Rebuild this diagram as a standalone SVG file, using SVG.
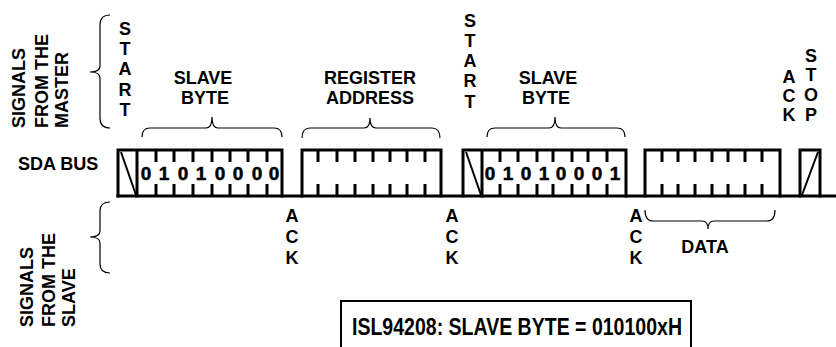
<svg xmlns="http://www.w3.org/2000/svg" width="836" height="347" viewBox="0 0 836 347">
<style>
.t{font-family:"Liberation Sans",Arial,sans-serif;font-weight:bold;font-size:18px;fill:#000}
.c{text-anchor:middle}
.d{font-family:"Liberation Sans",Arial,sans-serif;font-weight:bold;font-size:19px;fill:#000;stroke:#000;stroke-width:0.5;text-anchor:middle}
.bus{fill:none;stroke:#000;stroke-width:3;stroke-linecap:square}
.tick{stroke:#000;stroke-width:3}
.sl{stroke:#000;stroke-width:2}
.br{fill:none;stroke:#000;stroke-width:1.2}
</style>
<rect width="836" height="347" fill="#fff"/>

<g id="label-master">
<text class="t" transform="translate(25,128) rotate(-90)">SIGNALS</text>
<text class="t" transform="translate(48,128) rotate(-90)">FROM THE</text>
<text class="t" transform="translate(68,128) rotate(-90)">MASTER</text>
</g>
<g id="label-slave">
<text class="t" transform="translate(33,327) rotate(-90)">SIGNALS</text>
<text class="t" transform="translate(55,327) rotate(-90)">FROM THE</text>
<text class="t" transform="translate(75,327) rotate(-90)">SLAVE</text>
</g>
<g id="label-sda"><text class="t" x="18" y="170">SDA BUS</text></g>

<g id="start1">
<text class="t c" x="125" y="35">S</text>
<text class="t c" x="125" y="55">T</text>
<text class="t c" x="125" y="75">A</text>
<text class="t c" x="125" y="96">R</text>
<text class="t c" x="125" y="116">T</text>
</g>
<g id="start2">
<text class="t c" x="470" y="27">S</text>
<text class="t c" x="470" y="47">T</text>
<text class="t c" x="470" y="67">A</text>
<text class="t c" x="470" y="87">R</text>
<text class="t c" x="470" y="108">T</text>
</g>
<g id="ack-top">
<text class="t c" x="789" y="83">A</text>
<text class="t c" x="789" y="102">C</text>
<text class="t c" x="789" y="121">K</text>
</g>
<g id="stop">
<text class="t c" x="811" y="62">S</text>
<text class="t c" x="811" y="81">T</text>
<text class="t c" x="811" y="101">O</text>
<text class="t c" x="811" y="121">P</text>
</g>

<g id="slave-byte-1"><text class="t c" x="203" y="84">SLAVE</text><text class="t c" x="205" y="104">BYTE</text></g>
<g id="register-address"><text class="t c" x="370" y="84">REGISTER</text><text class="t c" x="370" y="104">ADDRESS</text></g>
<g id="slave-byte-2"><text class="t c" x="548" y="84">SLAVE</text><text class="t c" x="546" y="104">BYTE</text></g>

<g id="ack1"><text class="t c" x="292" y="222">A</text><text class="t c" x="292" y="243">C</text><text class="t c" x="292" y="264">K</text></g>
<g id="ack2"><text class="t c" x="452" y="222">A</text><text class="t c" x="452" y="243">C</text><text class="t c" x="452" y="264">K</text></g>
<g id="ack3"><text class="t c" x="636" y="222">A</text><text class="t c" x="636" y="243">C</text><text class="t c" x="636" y="264">K</text></g>
<g id="data-label"><text class="t c" x="705" y="253">DATA</text></g>

<g id="braces">
<path class="br" d="M110,15 Q100,15 100,25 L100,66 Q100,72 90,72 Q100,72 100,78 L100,118 Q100,128 110,128"/>
<path class="br" d="M110,202 Q100,202 100,211 L100,231 Q100,237 90,237 Q100,237 100,243 L100,264 Q100,273 110,273"/>
<path class="br" d="M142,137 Q142,128 150,128 L206,128 Q212,128 212,117 Q212,128 218,128 L274,128 Q282,128 282,137"/>
<path class="br" d="M302,138 Q302,128 310,128 L364,128 Q370,128 370,118 Q370,128 376,128 L432,128 Q440,128 440,138"/>
<path class="br" d="M487,137 Q487,128 495,128 L549,128 Q555,128 555,117 Q555,128 561,128 L617,128 Q625,128 625,137"/>
<path class="br" d="M645,210 Q645,221 653,221 L702,221 Q708,221 708,229 Q708,221 714,221 L767,221 Q775,221 775,210"/>
</g>

<g id="connectors">
<path class="bus" d="M118,196 L836,196"/>
<path class="bus" d="M118,196 L118,150 L282,150 L282,196 M137,150 L137,196"/>
<path class="bus" d="M302,196 L302,150 L441,150 L441,196"/>
<path class="bus" d="M463,196 L463,150 L626,150 L626,196 M482,150 L482,196"/>
<path class="bus" d="M645,196 L645,150 L780,150 L780,196"/>
<path class="bus" d="M800,196 L800,150 L820,150 L820,196"/>
<line class="sl" x1="121" y1="152" x2="136" y2="195"/>
<line class="sl" x1="466" y1="152" x2="481" y2="195"/>
<line class="sl" x1="802" y1="195" x2="818" y2="152"/>
<g class="tick">
<path d="M156,150v12M174,150v12M193,150v12M212,150v12M230,150v12M248,150v12M267,150v12M156,196v-12M174,196v-12M193,196v-12M212,196v-12M230,196v-12M248,196v-12M267,196v-12"/>
<path d="M318,150v12M337,150v12M355,150v12M373,150v12M390,150v12M407,150v12M425,150v12M318,196v-12M337,196v-12M355,196v-12M373,196v-12M390,196v-12M407,196v-12M425,196v-12"/>
<path d="M500,150v12M518,150v12M537,150v12M553,150v12M572,150v12M588,150v12M607,150v12M500,196v-12M518,196v-12M537,196v-12M553,196v-12M572,196v-12M588,196v-12M607,196v-12"/>
<path d="M662,150v12M678,150v12M695,150v12M712,150v12M728,150v12M745,150v12M762,150v12M662,196v-12M678,196v-12M695,196v-12M712,196v-12M728,196v-12M745,196v-12M762,196v-12"/>
</g>
</g>

<g id="bits-1">
<text class="d" x="146" y="180">0</text><text class="d" x="164" y="180">1</text><text class="d" x="183" y="180">0</text><text class="d" x="201" y="180">1</text><text class="d" x="220" y="180">0</text><text class="d" x="238" y="180">0</text><text class="d" x="257" y="180">0</text><text class="d" x="274" y="180">0</text>
</g>
<g id="bits-2">
<text class="d" x="490" y="180">0</text><text class="d" x="508" y="180">1</text><text class="d" x="526" y="180">0</text><text class="d" x="544" y="180">1</text><text class="d" x="561" y="180">0</text><text class="d" x="579" y="180">0</text><text class="d" x="597" y="180">0</text><text class="d" x="615" y="180">1</text>
</g>

<g id="note">
<rect x="341" y="301" width="350" height="60" fill="none" stroke="#000" stroke-width="2"/>
<text class="t" x="352" y="335" style="font-size:23px" textLength="330" lengthAdjust="spacingAndGlyphs">ISL94208: SLAVE BYTE = 010100xH</text>
</g>
</svg>
